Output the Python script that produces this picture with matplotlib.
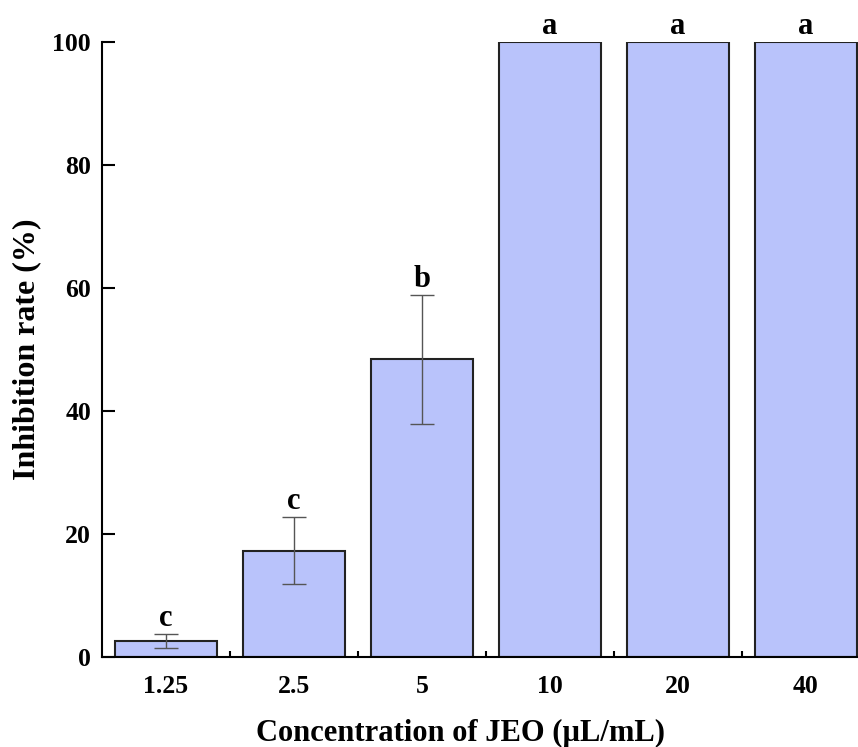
import numpy as np
import matplotlib.pyplot as plt
from matplotlib.ticker import FixedLocator

plt.rcParams['font.family'] = ['Liberation Serif', 'DejaVu Serif']
plt.rcParams['font.weight'] = 'bold'

#---------data------
concentrations = ['1.25', '2.5', '5', '10', '20', '40']
inhibition = [2.6, 17.3, 48.4, 100, 100, 100]
errors = [1.2, 5.4, 10.5, 0, 0, 0]
letters = ['c', 'c', 'b', 'a', 'a', 'a']

fig = plt.figure(figsize=(8.58, 7.47), dpi=100)
ax = fig.add_axes([0.1189, 0.1205, 0.895, 0.8233])

x = np.arange(len(concentrations))
ax.bar(x, inhibition, width=0.8, color='#b9c3fb', edgecolor='#222222', linewidth=1.5, zorder=2)

# only bars with a spread get error bars
err = np.array(errors)
has_err = err > 0
ax.errorbar(x[has_err], np.array(inhibition)[has_err], yerr=err[has_err], fmt='none',
            ecolor='#555555', elinewidth=1.0, capsize=8.5, capthick=1.0, zorder=3)

# significance letters over each bar
for xi, v, e, s in zip(x, inhibition, errors, letters):
    ax.text(xi, v + e + 1.3, s, ha='center', va='baseline', fontsize=22, fontweight='bold')

ax.set_xlim(-0.5, 5.5)
ax.set_ylim(0, 100)
ax.set_xticks(x)
ax.set_xticklabels(concentrations)
ax.xaxis.set_minor_locator(FixedLocator(x[:-1] + 0.5))
ax.set_yticks([0, 20, 40, 60, 80, 100])

ax.tick_params(axis='x', which='major', length=0, pad=13, labelsize=18.5)
ax.tick_params(axis='x', which='minor', direction='in', length=4, width=1.5)
ax.tick_params(axis='y', direction='in', length=9, width=1.5, pad=8, labelsize=18.5)
for lab in ax.get_xticklabels() + ax.get_yticklabels():
    lab.set_fontweight('bold')

for side in ['left', 'bottom', 'right', 'top']:
    ax.spines[side].set_linewidth(1.5)
ax.spines['top'].set_visible(False)

fig.text(0.537, 0.008, 'Concentration of JEO (µL/mL)', ha='center', va='baseline',
         fontsize=22, fontweight='bold')
ax.set_ylabel('Inhibition rate (%)', fontsize=23, fontweight='bold', labelpad=8)

fig.savefig('out.png', dpi=100)
